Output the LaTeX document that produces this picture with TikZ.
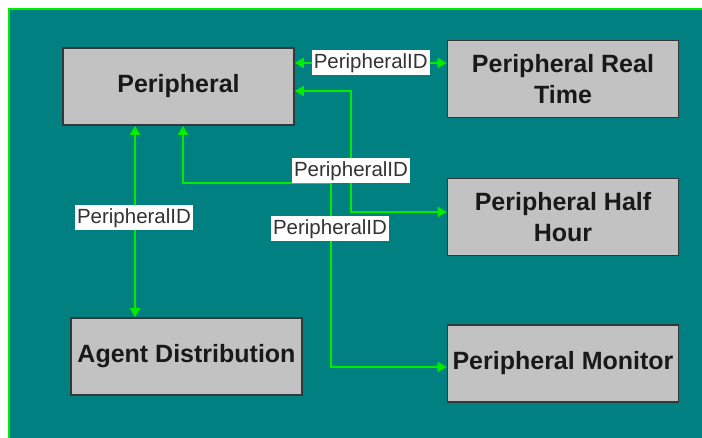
\documentclass[tikz,border=0pt]{standalone}
\usepackage{fontspec}
\setmainfont{Liberation Sans}
\usetikzlibrary{arrows.meta}
\definecolor{bgteal}{rgb}{0, 0.5, 0.5}
\definecolor{linkgreen}{rgb}{0, 0.93, 0}
\definecolor{boxgray}{rgb}{0.76, 0.76, 0.76}
\definecolor{boxline}{rgb}{0.2, 0.22, 0.22}

\begin{document}
\begin{tikzpicture}[x=1pt,y=-1pt,
  >={Triangle[length=9pt,width=10pt]},
  table/.style={draw=boxline, line width=1.6pt, fill=boxgray, minimum width=231pt, minimum height=77pt,
    inner xsep=2pt, align=center, text=black!90, font=\fontsize{25}{31}\selectfont\bfseries},
  link/.style={draw=linkgreen, line width=2pt},
  key/.style={fill=white, text=black!80, inner xsep=2pt, inner ysep=0pt, minimum height=25pt,
    font=\fontsize{20.5}{22}\selectfont}]
\useasboundingbox (0,0) rectangle (702,438);
\fill[bgteal] (9,9) rectangle (702,438);
\draw[linkgreen, line width=2pt] (9,438) -- (9,9) -- (702,9);

% tables
\node[table] (per) at (178.5,86.5) {Peripheral};
\node[table] (prt) at (563,79) {Peripheral Real\\Time};
\node[table] (phh) at (563,217) {Peripheral Half\\Hour};
\node[table] (pmon) at (563,363.5) {Peripheral Monitor};
\node[table] (agd) at (186.5,356.5) {Agent Distribution};

% relations
\draw[link,<->] (per.east |- 0,63) -- (prt.west |- 0,63) node[key, midway] (k1) {PeripheralID};
\draw[link,<->] (per.east |- 0,91) -| (351,212) -- (phh.west |- 0,212);
\draw[link,<->] (per.south -| 183,0) |- (331,183) |- (pmon.west |- 0,367);
\draw[link,<->] (per.south -| 135,0) -- (agd.north -| 135,0);
\node[key] (k2) at (351,171) {PeripheralID};
\node[key] (k3) at (330,229) {PeripheralID};
\node[key] (k4) at (134,218) {PeripheralID};
\end{tikzpicture}
\end{document}
